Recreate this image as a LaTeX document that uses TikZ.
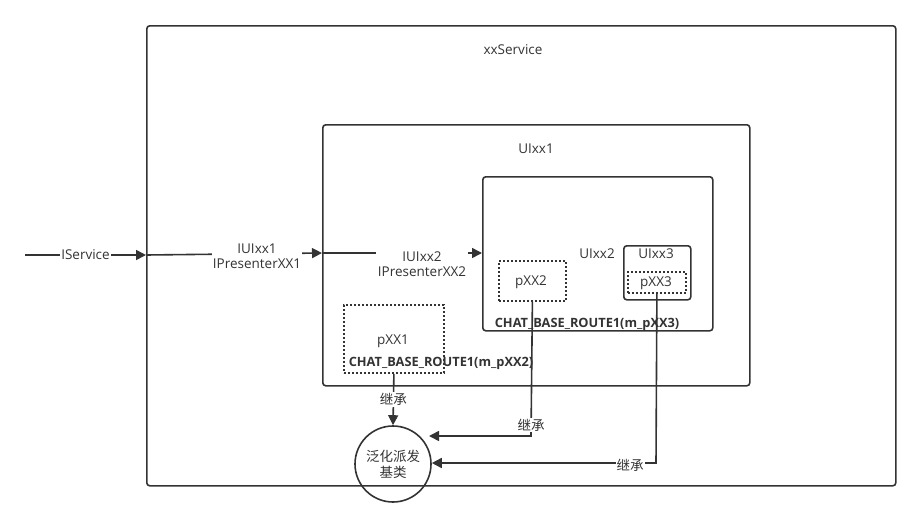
\documentclass[tikz,border=0pt]{standalone}
\usepackage{fontspec}
\setmainfont{Open Sans}
\newfontfamily\cjk{Noto Sans CJK SC}
\usetikzlibrary{arrows.meta,calc}
\definecolor{ln}{HTML}{333333}
\begin{document}
\begin{tikzpicture}[x=1pt,y=-1pt,
  box/.style={draw=ln,line width=1.6pt,rounded corners=3pt},
  dotbox/.style={draw=ln,line width=1.8pt,dash pattern=on 1.8pt off 2.2pt},
  lbl/.style={text=ln,font=\fontsize{13.5}{15}\selectfont,inner sep=1pt},
  bl/.style={text=ln,font=\fontsize{12.8}{14}\selectfont\bfseries,inner sep=1pt},
  conn/.style={draw=ln,line width=1.6pt},
  arr/.style={conn,-{Triangle[length=10pt,width=10pt]}},
  wl/.style={lbl,fill=white,inner sep=1pt,align=center,font=\fontsize{13.5}{15}\selectfont},
  zh/.style={wl,font=\cjk\fontsize{13.5}{15}\selectfont}]
\useasboundingbox (0,0) rectangle (920,525);
% boxes
\node[box,minimum width=749pt,minimum height=460pt,anchor=north west,inner sep=0] (svc) at (146,25) {};
\node[lbl] (svcl) at (513,50) {xxService};
\node[box,minimum width=427pt,minimum height=261pt,anchor=north west,inner sep=0] (ui1) at (322,124) {};
\node[lbl] (ui1l) at (536,149) {UIxx1};
\node[box,minimum width=230pt,minimum height=154pt,anchor=north west,inner sep=0] (ui2) at (482,176) {};
\node[lbl] (ui2l) at (597,254) {UIxx2};
\node[bl] (r3) at (587,324) {CHAT\_BASE\_ROUTE1(m\_pXX3)};
\node[dotbox,minimum width=67pt,minimum height=40pt,anchor=north west,inner sep=0] (p2) at (498,260) {};
\node[lbl] (p2l) at (531,282) {pXX2};
\node[box,minimum width=67pt,minimum height=54pt,anchor=north west,inner sep=0] (ui3) at (623,245) {};
\node[lbl] (ui3l) at (656,254) {UIxx3};
\node[dotbox,minimum width=58pt,minimum height=21pt,anchor=north west,inner sep=0] (p3) at (627,271) {};
\node[lbl] (p3l) at (656,283) {pXX3};
\node[dotbox,minimum width=100pt,minimum height=68pt,anchor=north west,inner sep=0] (p1) at (343,304) {};
\node[lbl] (p1l) at (393,341) {pXX1};
\node[bl] (r2) at (441,363) {CHAT\_BASE\_ROUTE1(m\_pXX2)};
\node[draw=ln,line width=1.6pt,circle,minimum size=76pt,inner sep=0,align=center,text=ln,font=\cjk\fontsize{13.5}{16}\selectfont] (base) at (393,464) {泛化派发\\基类};
% connectors
\coordinate (s0) at (25,255);
\draw[arr] (s0) -- (svc.west |- 0,255) node[wl,pos=0.5] (isl) {IService};
\draw[arr] (146,255) -- (ui1.west |- 0,253);
\node[wl] (l1) at (257,256) {IUIxx1\\IPresenterXX1};
\draw[arr] (322,253) -- (ui2.west |- 0,253);
\node[wl,inner sep=2pt] (l2) at (422,264) {IUIxx2\\IPresenterXX2};
\draw[arr] (p1.south) -- (base.north) node[zh,pos=0.5] (i1) {继承};
\draw[arr] (p2.south) -- (531,436) -- ($(base.center)+(36,-28)$);
\node[zh] (i2) at (531,425) {继承};
\draw[arr] (p3.south) -- (656,463) -- (base.east |- 0,463);
\node[zh] (i3) at (630,465) {继承};
\end{tikzpicture}
\end{document}
